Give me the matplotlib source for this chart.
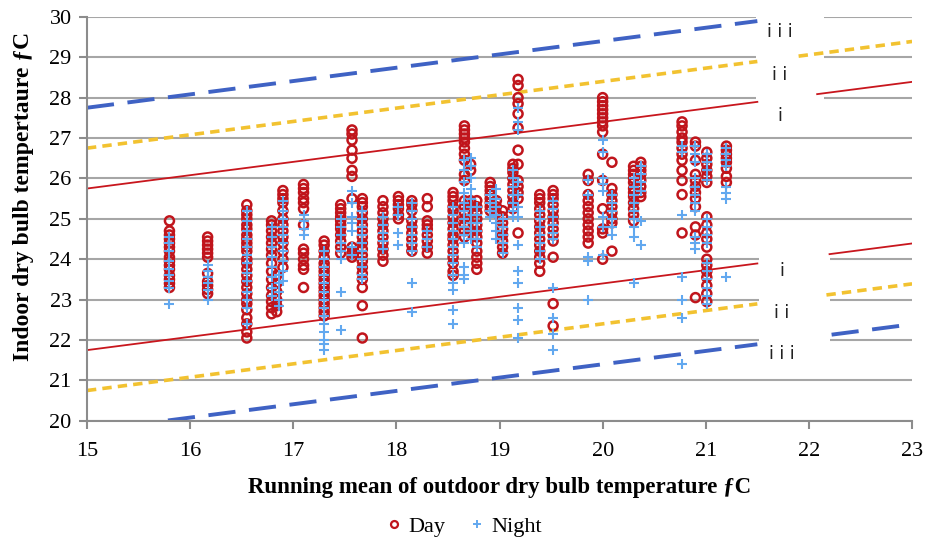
import matplotlib
matplotlib.use("Agg")
import matplotlib.pyplot as plt
from matplotlib.patches import Rectangle
from matplotlib.lines import Line2D

# x positions (running mean) of each measured column and the indoor temps found there
day_x = [15.8, 16.17, 16.55, 16.79, 16.84, 16.9, 17.1, 17.3, 17.46, 17.57, 17.67, 17.87,
         18.02, 18.15, 18.3, 18.55, 18.66, 18.72, 18.78, 18.91, 18.97, 19.03, 19.13, 19.18,
         19.39, 19.52, 19.86, 20.0, 20.09, 20.3, 20.37, 20.77, 20.9, 21.01, 21.2]
day_y = [
    [24.95, 24.7, 24.6, 24.5, 24.4, 24.3, 24.2, 24.05, 23.95, 23.85, 23.75, 23.6, 23.5, 23.4, 23.3],
    [24.55, 24.45, 24.35, 24.25, 24.15, 24.05, 23.65, 23.45, 23.35, 23.25, 23.15],
    [25.35, 25.2, 25.1, 25.0, 24.85, 24.75, 24.6, 24.5, 24.4, 24.3, 24.2, 24.0, 23.9, 23.75,
     23.6, 23.45, 23.3, 23.15, 23.0, 22.9, 22.75, 22.55, 22.4, 22.2, 22.05],
    [24.95, 24.85, 24.7, 24.55, 24.4, 24.25, 24.1, 23.9, 23.7, 23.5, 23.3, 23.1, 22.95, 22.8, 22.65],
    [23.6, 23.4, 23.2, 23.0, 22.85, 22.7],
    [25.7, 25.6, 25.5, 25.4, 25.2, 25.0, 24.85, 24.7, 24.55, 24.4, 24.2, 24.0, 23.8],
    [25.85, 25.75, 25.65, 25.5, 25.4, 25.25, 24.85, 24.25, 24.15, 24.0, 23.85, 23.75, 23.3],
    [24.45, 24.35, 24.2, 24.05, 23.9, 23.8, 23.7, 23.6, 23.5, 23.4, 23.3, 23.2, 23.1, 23.0,
     22.9, 22.8, 22.7, 22.6],
    [25.35, 25.25, 25.15, 25.05, 24.95, 24.85, 24.75, 24.6, 24.45, 24.3, 24.15],
    [27.2, 27.1, 26.95, 26.7, 26.5, 26.2, 26.05, 25.5, 24.3, 24.15, 24.05],
    [25.5, 25.4, 25.3, 25.15, 25.0, 24.85, 24.7, 24.55, 24.4, 24.25, 24.1, 23.95, 23.8, 23.65,
     23.5, 23.3, 22.85, 22.05],
    [25.45, 25.3, 25.15, 25.0, 24.85, 24.7, 24.55, 24.4, 24.25, 24.1, 23.95],
    [25.55, 25.45, 25.35, 25.25, 25.1, 25.0],
    [25.45, 25.35, 25.2, 24.95, 24.8, 24.65, 24.5, 24.35, 24.2],
    [25.5, 25.3, 24.95, 24.85, 24.75, 24.6, 24.45, 24.3, 24.15],
    [25.65, 25.55, 25.45, 25.3, 25.2, 25.05, 24.9, 24.75, 24.6, 24.5, 24.35, 24.2, 24.05,
     23.9, 23.7, 23.6],
    [27.3, 27.2, 27.1, 27.0, 26.9, 26.75, 26.6, 26.45, 26.1, 25.95, 25.45, 25.3, 25.15, 25.0,
     24.85, 24.7, 24.55],
    [26.35, 26.2, 25.45, 25.3],
    [25.45, 25.3, 25.15, 25.0, 24.85, 24.7, 24.55, 24.4, 24.2, 24.05, 23.9, 23.75],
    [25.9, 25.8, 25.7, 25.6, 25.5, 25.4, 25.3, 25.2],
    [25.45, 25.3, 25.15],
    [25.2, 25.05, 24.9, 24.75, 24.6, 24.45, 24.3, 24.15],
    [26.35, 26.25, 26.15, 26.0, 25.85, 25.7, 25.55, 25.4, 25.25],
    [28.45, 28.3, 28.0, 27.85, 27.6, 27.25, 26.7, 26.35, 25.95, 25.8, 25.65, 25.5, 24.65],
    [25.6, 25.5, 25.4, 25.25, 25.1, 24.95, 24.8, 24.65, 24.5, 24.35, 24.2, 24.05, 23.9, 23.7],
    [25.7, 25.6, 25.5, 25.35, 25.2, 25.05, 24.9, 24.75, 24.6, 24.45, 24.05, 22.9, 22.35],
    [26.1, 25.95, 25.6, 25.45, 25.3, 25.15, 25.0, 24.85, 24.7, 24.55, 24.4],
    [28.0, 27.9, 27.8, 27.7, 27.6, 27.5, 27.4, 27.3, 27.15, 26.6, 25.95, 25.25, 24.75, 24.65, 24.0],
    [26.4, 25.75, 25.6, 25.45, 25.3, 25.15, 25.0, 24.9, 24.2],
    [26.3, 26.2, 26.1, 26.0, 25.9, 25.75, 25.65, 25.55, 25.4, 25.25, 25.1, 24.95],
    [26.4, 26.3, 26.2, 26.1, 25.95, 25.8, 25.65, 25.55],
    [27.4, 27.3, 27.15, 27.0, 26.9, 26.75, 26.6, 26.45, 26.2, 25.95, 25.6, 24.65],
    [26.9, 26.8, 26.45, 26.1, 25.95, 25.8, 25.65, 25.5, 25.3, 24.8, 24.6, 23.05],
    [26.65, 26.5, 26.35, 26.2, 26.05, 25.9, 25.05, 24.85, 24.65, 24.5, 24.3, 24.0, 23.85,
     23.7, 23.55, 23.35, 23.15, 22.95],
    [26.8, 26.7, 26.6, 26.5, 26.4, 26.25, 26.05, 25.9],
]

night_x = [15.8, 16.17, 16.55, 16.79, 16.86, 16.9, 17.1, 17.3, 17.46, 17.57, 17.67, 17.87,
           18.02, 18.15, 18.3, 18.55, 18.66, 18.72, 18.78, 18.91, 18.97, 19.03, 19.13, 19.18,
           19.39, 19.52, 19.86, 20.0, 20.09, 20.3, 20.37, 20.77, 20.9, 21.01, 21.2]
night_y = [
    [24.55, 24.4, 24.2, 23.95, 23.75, 23.6, 23.45, 23.3, 22.9],
    [23.85, 23.7, 23.55, 23.4, 23.25, 23.0],
    [25.2, 24.95, 24.7, 24.5, 24.3, 24.1, 23.9, 23.65, 23.45, 23.2, 23.0, 22.8, 22.4],
    [24.8, 24.55, 24.3, 24.05, 23.8, 23.55, 23.3, 23.1],
    [23.6, 23.4, 23.2, 23.0, 22.85],
    [25.45, 25.2, 25.0, 24.8, 24.6, 24.4, 24.2, 23.95, 23.7, 23.45],
    [25.1, 24.95, 24.75, 24.6],
    [24.2, 24.0, 23.8, 23.6, 23.4, 23.2, 23.0, 22.8, 22.6, 22.4, 22.2, 22.0, 21.9, 21.75],
    [25.0, 24.8, 24.6, 24.4, 24.2, 24.0, 23.2, 22.25],
    [25.7, 25.4, 25.05, 24.9, 24.7, 24.3, 24.1],
    [25.2, 25.0, 24.8, 24.6, 24.4, 24.2, 24.0, 23.8, 23.6, 23.5],
    [25.05, 24.85, 24.65, 24.45, 24.25],
    [25.3, 25.1, 24.65, 24.35],
    [25.4, 25.2, 25.0, 24.8, 24.6, 24.4, 24.2, 23.4, 22.7],
    [24.7, 24.5, 24.3],
    [25.3, 25.1, 24.9, 24.7, 24.5, 24.3, 24.1, 23.9, 23.6, 23.4, 23.25, 22.75, 22.4],
    [26.45, 26.2, 25.9, 25.65, 25.4, 25.2, 25.0, 24.8, 24.6, 24.4, 23.8, 23.6, 23.5],
    [26.5, 26.3, 26.0, 25.75, 25.5, 25.3, 25.1, 24.9, 24.7, 24.5],
    [25.3, 25.1, 24.9, 24.7, 24.5, 24.3],
    [25.6, 25.4, 25.2, 25.05],
    [25.75, 25.5, 25.3, 25.1, 24.9, 24.7, 24.5],
    [25.0, 24.8, 24.6, 24.4, 24.15],
    [26.2, 26.0, 25.8, 25.6, 25.4, 25.2, 25.05],
    [27.75, 27.4, 27.2, 25.9, 25.6, 25.3, 25.05, 24.35, 23.7, 23.4, 22.8, 22.5, 22.05],
    [25.2, 25.0, 24.8, 24.6, 24.4, 24.2, 24.0],
    [25.45, 25.25, 25.05, 24.85, 24.65, 24.5, 23.3, 22.55, 22.15, 21.75],
    [25.95, 25.6, 24.05, 23.95, 23.0],
    [26.95, 26.65, 26.0, 25.85, 25.7, 25.05, 24.8, 24.1],
    [25.6, 25.4, 25.2, 25.0, 24.8, 24.6],
    [26.0, 25.8, 25.6, 25.4, 25.2, 25.0, 24.8, 24.55, 23.4],
    [26.3, 26.1, 25.9, 25.7, 24.95, 24.35],
    [26.8, 26.65, 25.1, 23.55, 23.0, 22.55, 21.4],
    [26.8, 26.6, 26.4, 26.0, 25.8, 25.6, 25.4, 25.2, 24.55, 24.4, 24.25],
    [26.6, 26.4, 26.2, 25.95, 25.0, 24.8, 24.6, 24.4, 23.9, 23.7, 23.5, 23.3, 23.1, 22.9],
    [26.75, 26.6, 26.45, 26.3, 25.8, 25.65, 25.5, 23.55],
]

# comfort band limits: y at x = 15 and x = 23 (upper i/ii/iii, lower i/ii/iii)
band_names = ["i", "ii", "iii"]
upper_y15 = [25.75, 26.75, 27.75]
upper_y23 = [28.39, 29.39, 30.39]
lower_y15 = [21.75, 20.75, 19.75]
lower_y23 = [24.39, 23.39, 22.39]

band_colors = ["#c8161d", "#f2c230", "#3f62c4"]
band_styles = ["-", (0, (2.6, 1.7)), (0, (7, 3.5))]
band_widths = [1.3, 2.6, 2.8]

plt.rcParams['font.family'] = ['Liberation Serif', 'DejaVu Serif']

fig = plt.figure(figsize=(9.25, 5.43), dpi=100)
ax = fig.add_axes([0.094, 0.225, 0.892, 0.744])
ax.set_xlim(15, 23)
ax.set_ylim(20, 30)

ax.set_yticks(range(20, 31))
ax.set_xticks(range(15, 24))
ax.grid(axis='y', color='#a6a6a6', lw=1.5, zorder=0)
ax.set_axisbelow(True)
for s in ['top', 'right']:
    ax.spines[s].set_visible(False)
for s in ['left', 'bottom']:
    ax.spines[s].set_color('#8c8c8c')
    ax.spines[s].set_linewidth(1.5)
ax.tick_params(axis='both', labelsize=16, color='#8c8c8c', width=1.5, length=6)
ax.tick_params(axis='x', pad=9)
ax.tick_params(axis='y', pad=5)


def band_y(y15, y23, x):
    # value along the straight band line at x
    return y15 + (y23 - y15) * (x - 15) / 8


# lines stop at 21.5 and pick up again after the label gap
upper_restart = [22.08, 21.9, 22.3]
lower_restart = [22.2, 22.17, 22.22]
for k in range(3):
    for y15, y23, xr in [(upper_y15[k], upper_y23[k], upper_restart[k]),
                         (lower_y15[k], lower_y23[k], lower_restart[k])]:
        for xa, xb in [(15, 21.5), (xr, 23)]:
            ax.plot([xa, xb], [band_y(y15, y23, xa), band_y(y15, y23, xb)],
                    color=band_colors[k], ls=band_styles[k], lw=band_widths[k], zorder=2)

# white label boxes breaking the gridlines
ax.add_patch(Rectangle((21.49, 27.9), 0.66, 2.2, facecolor='white', edgecolor='none',
                       zorder=1, clip_on=False))
ax.add_patch(Rectangle((21.52, 21.9), 0.68, 2.15, facecolor='white', edgecolor='none',
                       zorder=1, clip_on=False))

upper_label_y = [27.55, 28.55, 29.63]
lower_label_y = [23.7, 22.67, 21.66]
for k in range(3):
    lab = " ".join(band_names[k])
    ax.text(21.72, upper_label_y[k], lab, ha='center', va='center', fontsize=12.5,
            family='DejaVu Sans', color='#222222', zorder=3)
    ax.text(21.74, lower_label_y[k], lab, ha='center', va='center', fontsize=12.5,
            family='DejaVu Sans', color='#222222', zorder=3)

dx, dy = [], []
for x, ys in zip(day_x, day_y):
    dx += [x] * len(ys)
    dy += ys
nx, ny = [], []
for x, ys in zip(night_x, night_y):
    nx += [x] * len(ys)
    ny += ys

ax.scatter(dx, dy, s=42, facecolors='none', edgecolors='#c0151c', linewidths=1.8, zorder=4)
ax.scatter(nx, ny, s=48, marker='+', color='#62a8ef', linewidths=1.5, zorder=5)

ax.set_xlabel("Running mean of outdoor dry bulb temperature ƒC", fontsize=16.5,
              fontweight='bold', labelpad=12)
ax.set_ylabel("Indoor dry bulb tempertaure ƒC", fontsize=17, fontweight='bold')
ax.yaxis.set_label_coords(-0.064, 0.555)

handles = [Line2D([], [], ls='none', marker='o', mfc='none', mec='#c0151c', ms=5, mew=1.6),
           Line2D([], [], ls='none', marker='+', color='#62a8ef', ms=6, mew=1.4)]
fig.legend(handles, ["Day", "Night"], loc='center', bbox_to_anchor=(0.5, 0.03), ncol=2,
           frameon=False, fontsize=16, handletextpad=0.15, columnspacing=0.9, handlelength=1)

fig.savefig("out.png", dpi=100)
